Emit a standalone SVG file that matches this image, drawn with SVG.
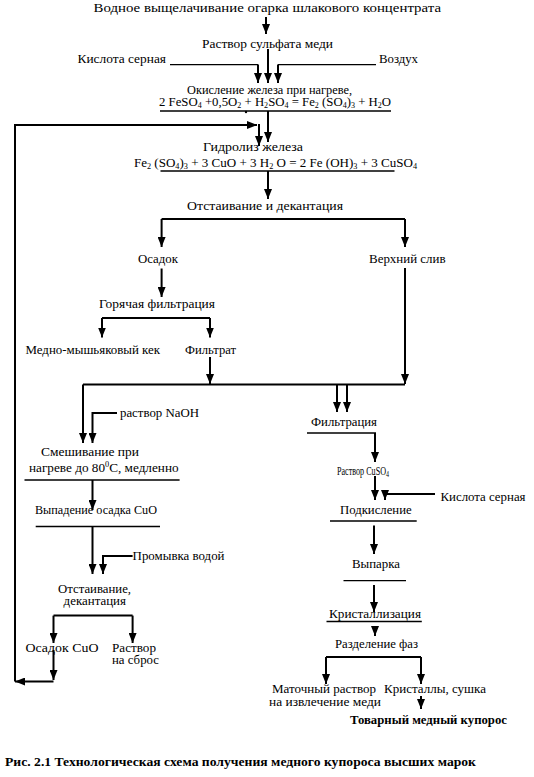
<svg xmlns="http://www.w3.org/2000/svg" width="534" height="777" viewBox="0 0 534 777">
<style>
text{font-family:"Liberation Serif","Times New Roman",Tinos,serif;font-size:13.5px;fill:#000}
.bd{font-weight:bold;font-size:13px}
.s{font-size:8.5px}
.sm{font-size:11.5px}
.c{stroke:#000;stroke-width:2;fill:none}
.u{stroke:#000;stroke-width:1.3;fill:none}
</style>
<defs>
<marker id="ah" markerUnits="userSpaceOnUse" markerWidth="10" markerHeight="8" refX="10" refY="4" orient="auto">
<path d="M0,0 L10,4 L0,8 z" fill="#000"/>
</marker>
</defs>
<rect width="534" height="777" fill="#fff"/>

<g id="n-leaching"><text x="93.5" y="12" textLength="347.5" lengthAdjust="spacingAndGlyphs">Водное  выщелачивание огарка шлакового концентрата</text></g>
<g id="n-cuso4-sol"><text x="202" y="48" textLength="131" lengthAdjust="spacingAndGlyphs">Раствор сульфата меди</text></g>
<g id="n-acid1"><text x="77.5" y="63" textLength="88.5" lengthAdjust="spacingAndGlyphs">Кислота  серная</text></g>
<g id="n-air"><text x="379" y="63" textLength="39" lengthAdjust="spacingAndGlyphs">Воздух</text></g>
<g id="n-oxidation">
<text x="187" y="93.5" textLength="165" lengthAdjust="spacingAndGlyphs">Окисление железа при нагреве,</text>
<text x="159" y="106" textLength="232" lengthAdjust="spacingAndGlyphs">2 FeSO<tspan class="s" dy="2">4</tspan><tspan dy="-2"> +0,5O</tspan><tspan class="s" dy="2">2</tspan><tspan dy="-2"> + H</tspan><tspan class="s" dy="2">2</tspan><tspan dy="-2">SO</tspan><tspan class="s" dy="2">4</tspan><tspan dy="-2"> = Fe</tspan><tspan class="s" dy="2">2</tspan><tspan dy="-2"> (SO</tspan><tspan class="s" dy="2">4</tspan><tspan dy="-2">)</tspan><tspan class="s" dy="2">3</tspan><tspan dy="-2"> + H</tspan><tspan class="s" dy="2">2</tspan><tspan dy="-2">O</tspan></text>
<line class="u" x1="160" y1="111" x2="391" y2="111"/>
<circle cx="246" cy="112" r="1.2" fill="#000"/>
</g>
<g id="n-hydrolysis">
<text x="203" y="151" textLength="100" lengthAdjust="spacingAndGlyphs">Гидролиз  железа</text>
<text x="134" y="167" textLength="283" lengthAdjust="spacingAndGlyphs">Fe<tspan class="s" dy="2">2</tspan><tspan dy="-2"> (SO</tspan><tspan class="s" dy="2">4</tspan><tspan dy="-2">)</tspan><tspan class="s" dy="2">3</tspan><tspan dy="-2"> + 3 CuO +  3 H</tspan><tspan class="s" dy="2">2</tspan><tspan dy="-2"> O = 2 Fe (OH)</tspan><tspan class="s" dy="2">3</tspan><tspan dy="-2">  + 3 CuSO</tspan><tspan class="s" dy="2">4</tspan></text>
<line class="u" x1="160.5" y1="171" x2="394.5" y2="171"/>
</g>
<g id="n-settling"><text x="187" y="210" textLength="156" lengthAdjust="spacingAndGlyphs">Отстаивание  и  декантация</text></g>
<g id="n-sediment"><text x="138" y="263" textLength="40" lengthAdjust="spacingAndGlyphs">Осадок</text></g>
<g id="n-overflow"><text x="369" y="263" textLength="76.6" lengthAdjust="spacingAndGlyphs">Верхний слив</text></g>
<g id="n-hotfilt"><text x="99" y="307.6" textLength="116" lengthAdjust="spacingAndGlyphs">Горячая  фильтрация</text></g>
<g id="n-cake"><text x="25.5" y="353.5" textLength="134.5" lengthAdjust="spacingAndGlyphs">Медно-мышьяковый кек</text></g>
<g id="n-filtrate"><text x="185" y="353.5" textLength="51" lengthAdjust="spacingAndGlyphs">Фильтрат</text></g>
<g id="n-naoh"><text x="120" y="417" textLength="79" lengthAdjust="spacingAndGlyphs">раствор NaOH</text></g>
<g id="n-filtration"><text x="311" y="426" textLength="66" lengthAdjust="spacingAndGlyphs">Фильтрация</text><line class="u" x1="307" y1="433" x2="376" y2="433"/></g>
<g id="n-mixing">
<text x="41" y="456" textLength="98" lengthAdjust="spacingAndGlyphs">Смешивание  при</text>
<text x="29" y="472" textLength="149.6" lengthAdjust="spacingAndGlyphs">нагреве  до 80<tspan class="s" dy="-5">0</tspan><tspan dy="5">C, медленно</tspan></text>
<line class="u" x1="24.5" y1="480" x2="179.6" y2="480"/>
</g>
<g id="n-cuso4"><text class="sm" x="337" y="475" textLength="52" lengthAdjust="spacingAndGlyphs">Раствор CuSO<tspan class="s" dy="2">4</tspan></text></g>
<g id="n-acid2"><text x="440.5" y="501" textLength="85" lengthAdjust="spacingAndGlyphs">Кислота серная</text></g>
<g id="n-precip"><text x="35" y="513.6" textLength="122" lengthAdjust="spacingAndGlyphs">Выпадение осадка  CuO</text><line class="u" x1="35.7" y1="526.5" x2="160" y2="526.5"/></g>
<g id="n-acidif"><text x="340" y="513.6" textLength="71.6" lengthAdjust="spacingAndGlyphs">Подкисление</text><line class="u" x1="330" y1="521" x2="416.7" y2="521"/></g>
<g id="n-wash"><text x="132.6" y="559.5" textLength="91.9" lengthAdjust="spacingAndGlyphs">Промывка водой</text></g>
<g id="n-evap"><text x="352" y="568" textLength="48" lengthAdjust="spacingAndGlyphs">Выпарка</text><line class="u" x1="343.5" y1="580.6" x2="406" y2="580.6"/></g>
<g id="n-settling2"><text x="58" y="592.5" textLength="73" lengthAdjust="spacingAndGlyphs">Отстаивание,</text><text x="63.6" y="605" textLength="62.4" lengthAdjust="spacingAndGlyphs">декантация</text></g>
<g id="n-cryst"><text x="329" y="618" textLength="92" lengthAdjust="spacingAndGlyphs">Кристаллизация</text><line class="u" x1="326.5" y1="621.5" x2="421.8" y2="621.5"/></g>
<g id="n-phasesep"><text x="335" y="648" textLength="83" lengthAdjust="spacingAndGlyphs">Разделение фаз</text></g>
<g id="n-cuo"><text x="25.5" y="652" textLength="73" lengthAdjust="spacingAndGlyphs">Осадок  CuO</text></g>
<g id="n-waste"><text x="112" y="652" textLength="44" lengthAdjust="spacingAndGlyphs">Раствор</text><text x="112" y="664" textLength="47" lengthAdjust="spacingAndGlyphs">на сброс</text></g>
<g id="n-mother"><text x="272" y="693" textLength="104" lengthAdjust="spacingAndGlyphs">Маточный раствор</text><text x="269" y="706" textLength="112" lengthAdjust="spacingAndGlyphs">на  извлечение  меди</text></g>
<g id="n-crystals"><text x="384" y="693" textLength="102" lengthAdjust="spacingAndGlyphs">Кристаллы, сушка</text></g>
<g id="n-product"><text class="bd" x="350" y="724" textLength="157" lengthAdjust="spacingAndGlyphs">Товарный медный купорос</text></g>
<g id="caption"><text class="bd" x="5" y="766" textLength="471" lengthAdjust="spacingAndGlyphs">Рис. 2.1  Технологическая схема  получения медного купороса  высших марок</text></g>

<g id="connectors">
<path class="c" d="M266,17 V34" marker-end="url(#ah)"/>
<path class="u" d="M170,64.6 H258"/>
<path class="c" d="M258,64.6 V83" marker-end="url(#ah)"/>
<path class="c" d="M268,49 V83" marker-end="url(#ah)"/>
<path class="u" d="M376,64.6 H278"/>
<path class="c" d="M278,64.6 V83" marker-end="url(#ah)"/>
<path class="c" d="M268,111 V142" marker-end="url(#ah)"/>
<path class="c" d="M15,681.5 V125 H257" marker-end="url(#ah)"/>
<path class="c" d="M259,124 V146" marker-end="url(#ah)"/>
<path class="c" d="M268,171 V199" marker-end="url(#ah)"/>
<path class="c" d="M161.6,219 H405"/>
<path class="c" d="M161.6,219 V247" marker-end="url(#ah)"/>
<path class="c" d="M405,219 V247" marker-end="url(#ah)"/>
<path class="c" d="M161.6,268.5 V297" marker-end="url(#ah)"/>
<path class="c" d="M102,318 H210"/>
<path class="c" d="M102,318 V337.5" marker-end="url(#ah)"/>
<path class="c" d="M210,318 V337.5" marker-end="url(#ah)"/>
<path class="c" d="M210,357 V384" marker-end="url(#ah)"/>
<path class="c" d="M405,268 V384" marker-end="url(#ah)"/>
<path class="c" d="M83,384.5 H405"/>
<path class="c" d="M83,384.5 V443" marker-end="url(#ah)"/>
<path class="c" d="M337,384.5 V412" marker-end="url(#ah)"/>
<path class="c" d="M347,384.5 V412" marker-end="url(#ah)"/>
<path class="c" d="M117,413 H92.5 V443" marker-end="url(#ah)"/>
<path class="c" d="M375,433 V462" marker-end="url(#ah)"/>
<path class="c" d="M375,476 V500" marker-end="url(#ah)"/>
<path class="c" d="M435,494 H385 V500" marker-end="url(#ah)"/>
<path class="c" d="M92.5,480 V510" marker-end="url(#ah)"/>
<path class="c" d="M92.5,526.5 V574" marker-end="url(#ah)"/>
<path class="c" d="M132.6,556 H103 V574" marker-end="url(#ah)"/>
<path class="c" d="M53.5,615.6 H132.6"/>
<path class="c" d="M53.5,615.6 V643" marker-end="url(#ah)"/>
<path class="c" d="M132.6,615.6 V643" marker-end="url(#ah)"/>
<path class="c" d="M53.5,650 V680" marker-end="url(#ah)"/>
<path class="c" d="M53.5,681.5 H15" marker-end="url(#ah)"/>
<path class="c" d="M374,525.5 V554" marker-end="url(#ah)"/>
<path class="c" d="M374,585 V612" marker-end="url(#ah)"/>
<path class="c" d="M375,628 V636" marker-end="url(#ah)"/>
<path class="c" d="M326,657 H421"/>
<path class="c" d="M326,657 V684" marker-end="url(#ah)"/>
<path class="c" d="M421,657 V684" marker-end="url(#ah)"/>
<path class="c" d="M421,696 V709" marker-end="url(#ah)"/>
</g>
</svg>
